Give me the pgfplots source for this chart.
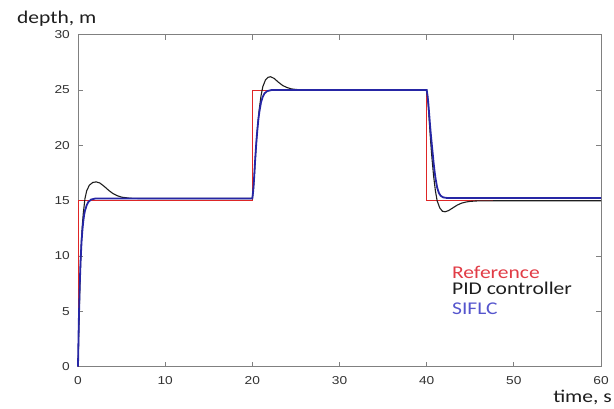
\documentclass[border=0pt]{standalone}
\usepackage{pgfplots}
\pgfplotsset{compat=1.18}
\usepackage{fontspec}
\setmainfont{Carlito}[FakeStretch=1.2]
\newfontfamily\tickfont{Liberation Sans}[FakeStretch=1.2]
\definecolor{refred}{RGB}{222,38,38}
\definecolor{pidblack}{RGB}{30,30,30}
\definecolor{sifblue}{RGB}{38,38,165}
\definecolor{legred}{RGB}{225,60,70}
\definecolor{legblue}{RGB}{85,85,205}
\definecolor{axgray}{RGB}{128,128,128}
\definecolor{tickgray}{RGB}{50,50,50}
\begin{document}
\begin{tikzpicture}
\begin{axis}[
  scale only axis,
  width=523bp, height=332bp,
  xmin=0, xmax=60, ymin=0, ymax=30,
  xtick={0,10,...,60}, ytick={0,5,...,30},
  tick pos=both, tick align=inside,
  major tick length=5bp,
  axis line style={axgray, line width=0.9bp},
  every tick/.style={axgray, line width=0.8bp},
  /pgf/number format/assume math mode=true,
  ticklabel style={font=\tickfont\fontsize{11.5}{12}\selectfont, text=tickgray},
  xticklabel style={inner sep=0pt, anchor=north, yshift=-9.5bp},
  yticklabel style={inner sep=0pt, anchor=east, xshift=-8bp},
  clip=false,
]
\addplot[refred, line width=1bp] coordinates {
(0,0) (0,15) (20,15) (20,25) (40,25) (40,15) (60,15)};
\addplot[pidblack, line width=1.1bp] coordinates {
(0,0) (0.05,1.5) (0.1,3.5) (0.2,6.8) (0.3,9.5) (0.4,11.5) (0.5,12.8) (0.6,13.8) (0.8,15.2) (1.0,15.9) (1.3,16.4) (1.7,16.65) (2.1,16.7) (2.5,16.6) (3.0,16.3) (3.5,15.95) (4.0,15.65) (4.5,15.45) (5.0,15.32) (6.0,15.22) (7.0,15.2) (20,15.2)
(20.1,15.8) (20.2,16.9) (20.3,18.2) (20.4,19.5) (20.5,20.7) (20.6,21.7) (20.8,23.3) (21.0,24.5) (21.2,25.3) (21.5,25.9) (21.8,26.15) (22.1,26.2) (22.5,26.05) (23.0,25.7) (23.5,25.4) (24.0,25.22) (24.5,25.1) (25.0,25.05) (26.0,25.0) (40,25)
(40.1,24.4) (40.2,23.4) (40.3,22.2) (40.4,21.0) (40.5,19.9) (40.6,18.9) (40.8,17.2) (41.0,15.9) (41.2,15.0) (41.5,14.35) (41.8,14.05) (42.1,14.0) (42.5,14.1) (43.0,14.35) (43.5,14.6) (44.0,14.78) (44.5,14.88) (45.0,14.94) (46.0,14.99) (60,15.0)};
\addplot[sifblue, line width=1.8bp] coordinates {
(0,0) (0.05,2.3) (0.1,4.3) (0.2,7.4) (0.3,9.6) (0.4,11.2) (0.5,12.3) (0.6,13.1) (0.7,13.7) (0.8,14.1) (1.0,14.6) (1.2,14.9) (1.5,15.1) (2.0,15.2) (20,15.2)
(20.1,15.9) (20.2,17.0) (20.3,18.4) (20.4,19.6) (20.5,20.7) (20.6,21.6) (20.7,22.4) (20.8,23.0) (21.0,23.9) (21.2,24.4) (21.4,24.7) (21.7,24.9) (22.2,25.0) (40,25)
(40.1,24.5) (40.2,23.7) (40.3,22.7) (40.4,21.7) (40.5,20.8) (40.6,20.0) (40.7,19.2) (40.8,18.4) (40.9,17.7) (41.0,17.1) (41.2,16.2) (41.4,15.7) (41.6,15.45) (41.9,15.3) (42.3,15.25) (60,15.25)};
\node[anchor=base west, inner sep=0pt, text=legred, font=\fontsize{18}{20}\selectfont] at (axis cs:42.9,7.99) {Reference};
\node[anchor=base west, inner sep=0pt, text=pidblack, font=\fontsize{18}{20}\selectfont] at (axis cs:42.9,6.49) {PID controller};
\node[anchor=base west, inner sep=0pt, text=legblue, font=\fontsize{18}{20}\selectfont] at (axis cs:42.9,4.68) {SIFLC};
\node[anchor=base west, inner sep=0pt, text=pidblack, font=\fontsize{18}{20}\selectfont] at (axis cs:-7.0,31.0) {depth, m};
\node[anchor=base east, inner sep=0pt, text=pidblack, font=\fontsize{18}{20}\selectfont] at (axis cs:61.26,-3.27) {time, s};
\coordinate (ll) at (rel axis cs:0,0);
\coordinate (ur) at (rel axis cs:1,1);
\end{axis}
\pgfresetboundingbox
\path[use as bounding box] ([xshift=-78bp,yshift=-41.3bp]ll) rectangle ([xshift=13bp,yshift=34.7bp]ur);
\end{tikzpicture}
\end{document}
